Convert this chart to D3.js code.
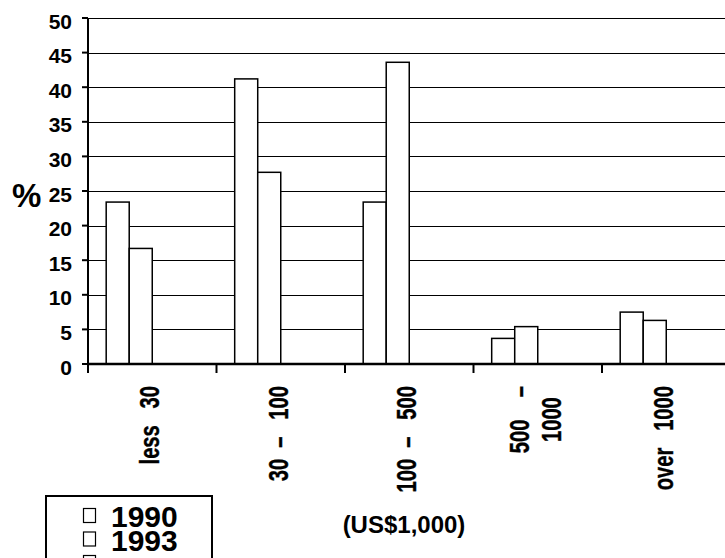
<!DOCTYPE html>
<html>
<head>
<meta charset="utf-8">
<script src="https://cdn.jsdelivr.net/npm/d3@7"></script>
<style>
  html, body { margin: 0; padding: 0; background: #fff; }
  svg text { font-family: "Liberation Sans", Arial, sans-serif; font-weight: bold; fill: #000; white-space: pre; }
</style>
</head>
<body>
<svg id="chart" width="725" height="558"></svg>
<script>
// ---- data ----
const categories = ["less 30", "30 - 100", "100 - 500", "500 - 1000", "over 1000"];
const categoryLabels = [["less   30"], ["30  \u2013   100"], ["100  \u2013   500"], ["500    \u2013", "1000"], ["over   1000"]];
const seriesNames = ["1990", "1993", "", ""];
const values1990 = [23.4, 41.2, 23.4, 3.7, 7.5];
const values1993 = [16.7, 27.7, 43.6, 5.4, 6.3];
const yTicks = [0, 5, 10, 15, 20, 25, 30, 35, 40, 45, 50];
const yLabel = "%";
const xLabel = "(US$1,000)";

const seriesValues = [values1990, values1993, null, null];

// ---- layout ----
const svg = d3.select("#chart");
const plot = { left: 88, right: 730.5, top: 18, bottom: 364 };

const x0 = d3.scaleBand().domain(categories).range([plot.left, plot.right]).paddingInner(0).paddingOuter(0);
const x1 = d3.scaleBand().domain(d3.range(seriesNames.length)).range([0, x0.bandwidth()]).paddingInner(0).paddingOuter(0.79);
const y = d3.scaleLinear().domain([0, 50]).range([plot.bottom, plot.top]);

// gridlines
svg.append("g").selectAll("line").data(yTicks.filter(d => d > 0)).join("line")
  .attr("x1", plot.left).attr("x2", 725)
  .attr("y1", d => Math.round(y(d)) + 0.5).attr("y2", d => Math.round(y(d)) + 0.5)
  .attr("stroke", "#000").attr("stroke-width", 1);

// bars
const barData = [];
seriesValues.forEach((vals, si) => {
  if (!vals) return;
  vals.forEach((v, ci) => barData.push({ si, cat: categories[ci], v }));
});
svg.append("g").selectAll("rect").data(barData).join("rect")
  .attr("x", d => x0(d.cat) + x1(d.si))
  .attr("width", x1.bandwidth())
  .attr("y", d => y(d.v))
  .attr("height", d => y(0) - y(d.v))
  .attr("fill", "#fff").attr("stroke", "#000").attr("stroke-width", 1.5);

// y axis
const yAxis = svg.append("g");
yAxis.append("line").attr("x1", plot.left).attr("x2", plot.left).attr("y1", plot.top).attr("y2", plot.bottom)
  .attr("stroke", "#000").attr("stroke-width", 2);
yAxis.selectAll("line.tick").data(yTicks).join("line").attr("class", "tick")
  .attr("x1", plot.left - 6).attr("x2", plot.left)
  .attr("y1", d => y(d)).attr("y2", d => y(d))
  .attr("stroke", "#000").attr("stroke-width", 2);
yAxis.selectAll("text").data(yTicks).join("text")
  .attr("x", 72).attr("y", d => y(d) + 10.5)
  .attr("text-anchor", "end").attr("font-size", 21)
  .text(d => d);

// x axis
const xAxis = svg.append("g");
xAxis.append("line").attr("x1", plot.left - 1).attr("x2", 725).attr("y1", plot.bottom).attr("y2", plot.bottom)
  .attr("stroke", "#000").attr("stroke-width", 2.5);
const boundaries = categories.map(c => x0(c)).concat([x0.range()[1]]);
xAxis.selectAll("line.tick").data(boundaries).join("line").attr("class", "tick")
  .attr("x1", d => d).attr("x2", d => d).attr("y1", plot.bottom).attr("y2", plot.bottom + 9)
  .attr("stroke", "#000").attr("stroke-width", 2);

// rotated category labels
const labelFont = 28, labelScale = 0.72, labelTop = 386, lineGap = 32;
categories.forEach((c, ci) => {
  const lines = categoryLabels[ci];
  const g = xAxis.append("g");
  const texts = lines.map(t => g.append("text").attr("font-size", labelFont).attr("text-anchor", "middle")
    .attr("stroke", "#000").attr("stroke-width", 0.4).text(t));
  const lens = texts.map(t => t.node().getComputedTextLength() * labelScale);
  const L = d3.max(lens);
  const cx = x0(c) + x0.bandwidth() / 2 - 3;
  texts.forEach((t, i) => {
    const bx = cx + 10 + (i - (lines.length - 1) / 2) * lineGap;
    const cy = labelTop + L / 2;
    t.attr("transform", `translate(${bx},${cy}) rotate(-90) scale(${labelScale},1)`);
  });
});

// axis titles
svg.append("text").attr("x", 12).attr("y", 207).attr("font-size", 33).text(yLabel);
svg.append("text").attr("x", 404).attr("y", 533).attr("text-anchor", "middle").attr("font-size", 24).text(xLabel);

// legend
const legend = svg.append("g");
legend.append("rect").attr("x", 46).attr("y", 496).attr("width", 166).attr("height", 80)
  .attr("fill", "#fff").attr("stroke", "#000").attr("stroke-width", 2);
const legendItems = seriesNames.slice(0, 3);
legendItems.forEach((name, i) => {
  const yy = 508 + i * 23.5;
  legend.append("rect").attr("x", 83.5).attr("y", yy + 0.5).attr("width", 12).attr("height", 14)
    .attr("fill", "#fff").attr("stroke", "#000").attr("stroke-width", 1.2);
  legend.append("text").attr("x", 111).attr("y", yy + 19).attr("font-size", 30).text(name);
});
</script>
</body>
</html>
